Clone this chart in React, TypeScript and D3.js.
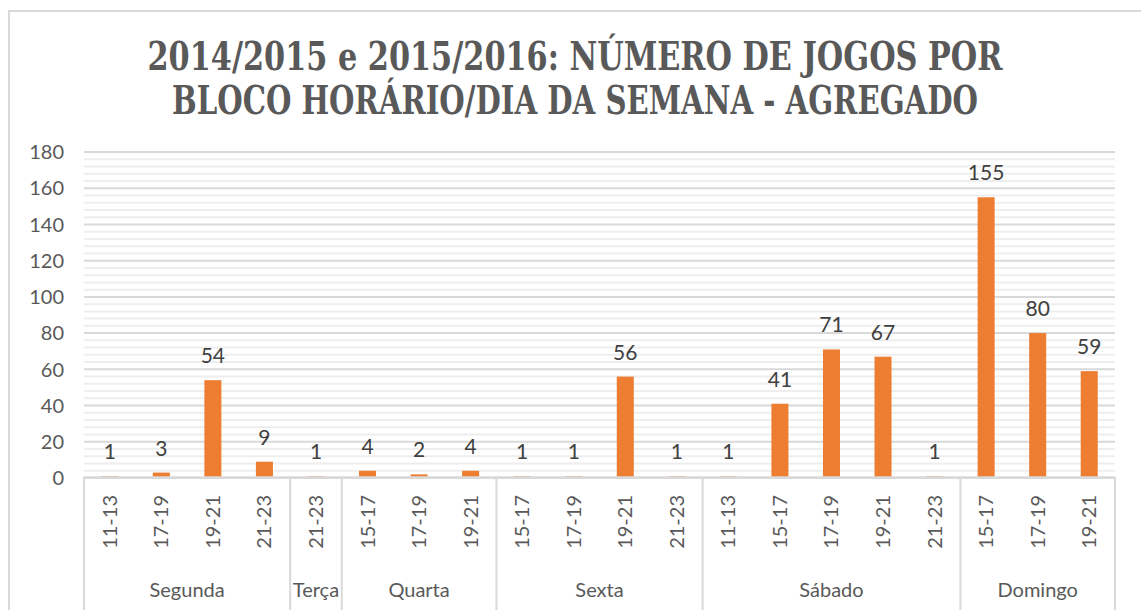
import React from "react";
import * as d3 from "d3";

const groups = ["Segunda", "Terça", "Quarta", "Sexta", "Sábado", "Domingo"];
const slots: string[][] = [
  ["11-13", "17-19", "19-21", "21-23"],
  ["21-23"],
  ["15-17", "17-19", "19-21"],
  ["15-17", "17-19", "19-21", "21-23"],
  ["11-13", "15-17", "17-19", "19-21", "21-23"],
  ["15-17", "17-19", "19-21"],
];
const values: number[][] = [
  [1, 3, 54, 9],
  [1],
  [4, 2, 4],
  [1, 1, 56, 1],
  [1, 41, 71, 67, 1],
  [155, 80, 59],
];
const yTicks = [0, 20, 40, 60, 80, 100, 120, 140, 160, 180];
const titleLines = [
  "2014/2015 e 2015/2016: NÚMERO DE JOGOS POR",
  "BLOCO HORÁRIO/DIA DA SEMANA - AGREGADO",
];

const W = 1141;
const H = 610;
const FONT = "Lato, 'Open Sans', sans-serif";

export default function App() {
  const leaves: { key: string; slot: string; value: number; group: number }[] = [];
  groups.forEach((g, gi) => {
    slots[gi].forEach((s, si) => {
      leaves.push({ key: `${gi}-${si}`, slot: s, value: values[gi][si], group: gi });
    });
  });

  const x = d3
    .scaleBand<string>()
    .domain(leaves.map((l) => l.key))
    .range([84, 1115])
    .paddingInner(0.67)
    .paddingOuter(0.335);
  const step = x.step();
  const x0 = 84;
  const y = d3.scaleLinear().domain([0, 180]).range([478, 152]);
  const minor = d3.range(0, 181, 4).filter((v) => v % 20 !== 0);

  const bounds: number[] = [x0];
  let cnt = 0;
  slots.forEach((s) => {
    cnt += s.length;
    bounds.push(x0 + cnt * step);
  });

  return (
    <div style={{ position: "fixed", left: 0, top: 0 }}>
      <svg width={W} height={H} style={{ display: "block", background: "#fff" }}>
        <rect x={0} y={0} width={W} height={H} fill="#fff" />
        <line x1={8} x2={W} y1={11} y2={11} stroke="#d9d9d9" strokeWidth={2} />
        <line x1={9} x2={9} y1={10} y2={H} stroke="#d9d9d9" strokeWidth={2} />

        {titleLines.map((t, i) => (
          <text
            key={i}
            x={575}
            y={70 + i * 44}
            textAnchor="middle"
            fontFamily="'DejaVu Serif Condensed', 'DejaVu Serif', serif"
            fontStretch="condensed"
            fontWeight="bold"
            fontSize={39}
            fill="#595959"
            textLength={i === 0 ? 855 : 806}
            lengthAdjust="spacingAndGlyphs"
          >
            {t}
          </text>
        ))}

        {minor.map((v) => (
          <line key={"m" + v} x1={84} x2={1115} y1={y(v)} y2={y(v)} stroke="#eeeeee" strokeWidth={2} />
        ))}
        {yTicks.map((v) => (
          <line key={"g" + v} x1={84} x2={1115} y1={y(v)} y2={y(v)} stroke="#d9d9d9" strokeWidth={2} />
        ))}
        {yTicks.map((v) => (
          <text
            key={"t" + v}
            x={64}
            y={y(v)}
            dy="0.36em"
            textAnchor="end"
            fontFamily={FONT}
            fontSize={20}
            fill="#595959"
          >
            {v}
          </text>
        ))}

        {leaves.map((l) => (
          <rect
            key={"b" + l.key}
            x={x(l.key)!}
            width={x.bandwidth()}
            y={y(l.value)}
            height={y(0) - y(l.value)}
            fill="#ED7D31"
          />
        ))}
        {leaves.map((l) => (
          <text
            key={"v" + l.key}
            x={x(l.key)! + x.bandwidth() / 2}
            y={y(l.value) - 17}
            textAnchor="middle"
            fontFamily={FONT}
            fontSize={21}
            fill="#404040"
          >
            {l.value}
          </text>
        ))}

        <line x1={84} x2={1115} y1={477.5} y2={477.5} stroke="#d9d9d9" strokeWidth={2.6} />
        {bounds.map((b, i) => (
          <line key={"s" + i} x1={b} x2={b} y1={477} y2={H} stroke="#d9d9d9" strokeWidth={2} />
        ))}
        {leaves.map((l) => {
          const cx = x(l.key)! + x.bandwidth() / 2;
          return (
            <text
              key={"c" + l.key}
              transform={`translate(${cx + 7},495) rotate(-90)`}
              textAnchor="end"
              fontFamily={FONT}
              fontSize={20}
              fill="#595959"
            >
              {l.slot}
            </text>
          );
        })}
        {groups.map((g, i) => (
          <text
            key={"gl" + i}
            x={(bounds[i] + bounds[i + 1]) / 2}
            y={597}
            textAnchor="middle"
            fontFamily={FONT}
            fontSize={20}
            fill="#595959"
          >
            {g}
          </text>
        ))}
      </svg>
    </div>
  );
}
